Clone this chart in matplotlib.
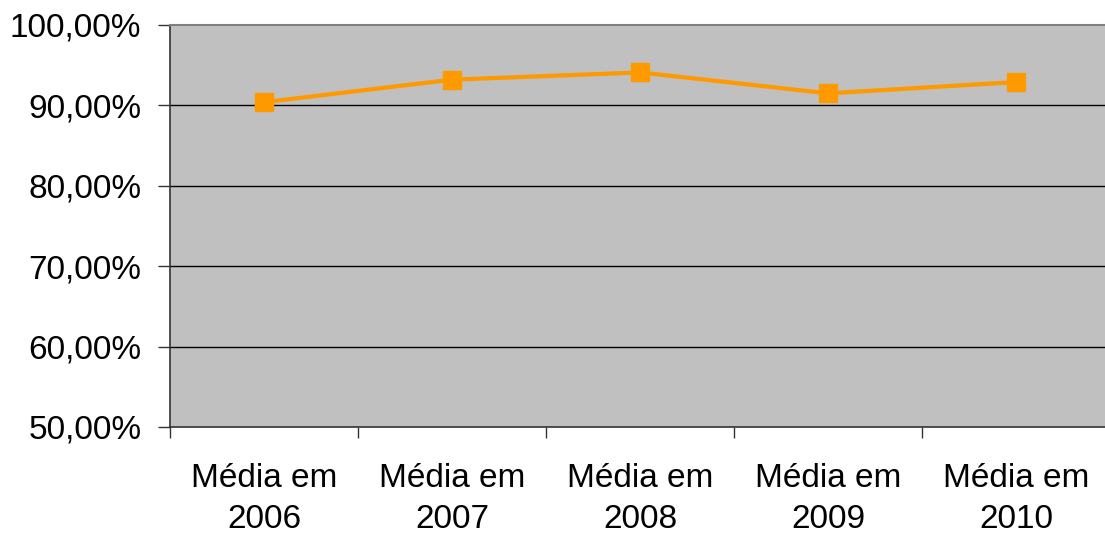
import matplotlib
matplotlib.use("Agg")
import matplotlib.pyplot as plt
from matplotlib.ticker import FixedLocator, FuncFormatter

categories = ["Média em\n2006", "Média em\n2007", "Média em\n2008", "Média em\n2009", "Média em\n2010"]
values = [90.4, 93.2, 94.1, 91.5, 92.9]
yticks = [50, 60, 70, 80, 90, 100]

plt.rcParams['font.family'] = ['Liberation Sans', 'DejaVu Sans']

fig = plt.figure(figsize=(11.05, 5.34), dpi=100)
ax = fig.add_axes([170/1105, 1-427/534, 1-170/1105 + 5/1105, (427-25)/534])
ax.set_facecolor("#C0C0C0")

x = list(range(len(categories)))
ax.plot(x, values, color="#FF9900", lw=3.0, marker="s", markersize=13.5,
        markerfacecolor="#FF9900", markeredgecolor="#FF9900", zorder=3, clip_on=False)

ax.set_ylim(50, 100)
ax.set_xlim(-0.5, 4.5)
ax.yaxis.set_major_locator(FixedLocator(yticks))
ax.yaxis.set_major_formatter(FuncFormatter(lambda v, p: f"{v:.2f}".replace(".", ",") + "%"))
for yv in yticks[1:-1]:
    ax.axhline(yv, color="black", lw=1.0, zorder=1)

ax.set_xticks(x)
ax.set_xticklabels(categories, linespacing=1.42)
ax.set_xticks([i - 0.5 for i in range(len(categories) + 1)], minor=True)
ax.tick_params(axis="x", which="major", length=0, pad=26, labelsize=24)
ax.tick_params(axis="x", which="minor", length=8, width=1.0, color="#333333")
ax.tick_params(axis="y", length=8.6, width=1.0, color="#333333", pad=12, labelsize=24)

for s in ["left", "bottom"]:
    ax.spines[s].set_color("#333333")
    ax.spines[s].set_linewidth(1.2)
ax.spines["top"].set_color("#808080")
ax.spines["top"].set_linewidth(1.5)
ax.spines["right"].set_visible(False)

fig.savefig("out.png", dpi=100)
